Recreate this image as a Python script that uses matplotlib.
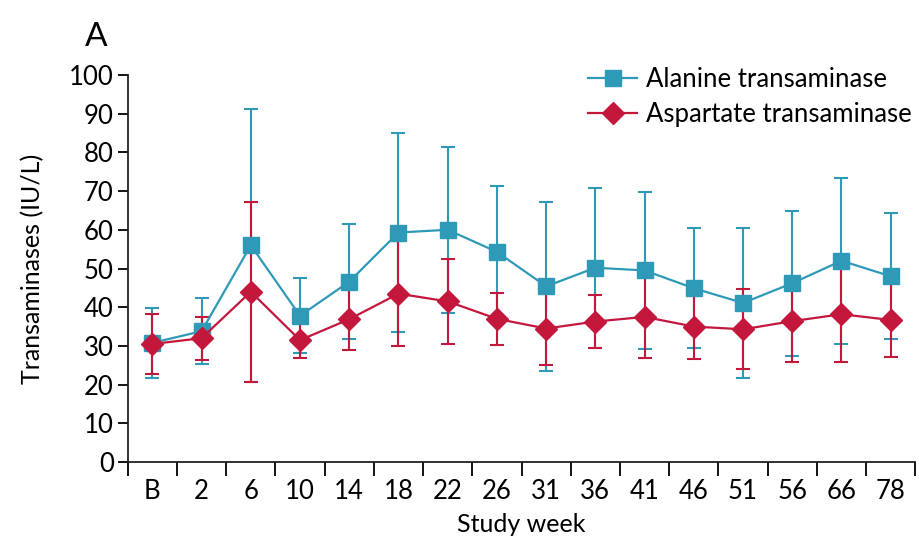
import numpy as np
import matplotlib
matplotlib.use("Agg")
import matplotlib.pyplot as plt
from matplotlib.ticker import FixedLocator, NullFormatter

plt.rcParams['font.family'] = ['Lato', 'DejaVu Sans']

# *
# data
# *
weeks    = ["B", "2", "6", "10", "14", "18", "22", "26", "31", "36", "41", "46", "51", "56", "66", "78"]
alt_mean = [30.8, 33.8, 56.0, 37.8, 46.6, 59.3, 60.0, 54.3, 45.4, 50.2, 49.5, 44.9, 41.1, 46.2, 52.0, 48.0]
alt_sd   = [9.0, 8.5, 35.2, 9.7, 14.9, 25.8, 21.5, 17.1, 21.9, 20.7, 20.3, 15.5, 19.3, 18.7, 21.4, 16.3]
ast_mean = [30.5, 32.0, 44.0, 31.5, 36.9, 43.5, 41.5, 37.0, 34.5, 36.3, 37.5, 35.0, 34.3, 36.4, 38.2, 36.7]
ast_sd   = [7.7, 5.6, 23.3, 4.5, 8.0, 13.5, 11.0, 6.8, 9.5, 6.9, 10.5, 8.5, 10.3, 10.5, 12.3, 9.6]

teal = "#2f9ab8"
red  = "#c3173c"

fig = plt.figure(figsize=(9.19, 5.43), dpi=100)
ax = fig.add_axes([0.139, 0.149, 0.857, 0.713])

x = np.arange(len(weeks))

# error bars first, then the lines with markers on top
ax.errorbar(x, alt_mean, yerr=alt_sd, fmt='none', ecolor=teal, elinewidth=1.5, capsize=5, capthick=1.5, zorder=2)
ax.errorbar(x, ast_mean, yerr=ast_sd, fmt='none', ecolor=red, elinewidth=1.5, capsize=5, capthick=1.5, zorder=2)
ax.plot(x, alt_mean, color=teal, lw=1.6, marker='s', markersize=12, label="Alanine transaminase", zorder=3)
ax.plot(x, ast_mean, color=red, lw=1.6, marker='D', markersize=11, label="Aspartate transaminase", zorder=4)

# axes
ax.set_xlim(-0.5, len(weeks) - 0.5)
ax.set_ylim(0, 100)
ax.set_yticks(np.arange(0, 101, 10))
ax.set_xticks(x)
ax.set_xticklabels(weeks)
ax.xaxis.set_minor_locator(FixedLocator(np.arange(-0.5, len(weeks), 1.0)))
ax.xaxis.set_minor_formatter(NullFormatter())
ax.tick_params(axis='x', which='major', length=0, labelsize=18.5, pad=12)
ax.tick_params(axis='x', which='minor', length=10, width=1.3, direction='out')
ax.tick_params(axis='y', length=7, width=1.3, labelsize=18.5, pad=3)

for s in ['top', 'right']:
    ax.spines[s].set_visible(False)
for s in ['left', 'bottom']:
    ax.spines[s].set_linewidth(1.3)
    ax.spines[s].set_color('#222222')

ax.set_xlabel("Study week", fontsize=18, labelpad=7)
ax.set_ylabel("Transaminases (IU/L)", fontsize=18, labelpad=18)

fig.text(0.092, 0.932, "A", fontsize=24, ha='left', va='center')

ax.legend(loc='upper right', bbox_to_anchor=(1.025, 1.08), frameon=False, fontsize=18.5,
          handlelength=1.9, handletextpad=0.35, labelspacing=0.4)

fig.savefig("out.png", dpi=100)
